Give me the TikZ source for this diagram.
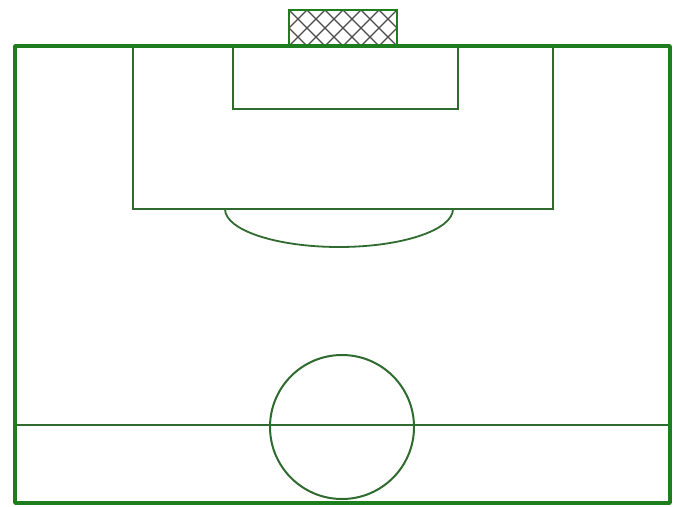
\documentclass[tikz,border=0pt]{standalone}
\usetikzlibrary{calc}
\definecolor{outergreen}{HTML}{1E7D1E}
\definecolor{innergreen}{HTML}{2F6A2F}
\definecolor{netgray}{HTML}{4A4A4A}
\tikzset{
  boundary/.style={draw=outergreen, line width=3.6pt},
  pitchline/.style={draw=innergreen, line width=2pt},
  netline/.style={draw=netgray, line width=1.3pt},
}
\begin{document}
\begin{tikzpicture}[x=1pt,y=-1pt]
\useasboundingbox (0,0) rectangle (682,506);
\fill[white] (0,0) rectangle (682,506);
% goal net
\begin{scope}
  \clip (289,10) rectangle (397,46);
  \foreach \i in {-3,...,10} {
    \draw[netline] ({289+\i*18},10) -- ({289+\i*18+40},50);
    \draw[netline] ({289+\i*18},10) -- ({289+\i*18-40},50);
  }
\end{scope}
\draw[draw=outergreen, line width=2.4pt] (289,46) -- (289,10) -- (397,10) -- (397,46);
% penalty area, goal area
\draw[pitchline] (133,46) -- (133,209) -- (553,209) -- (553,46);
\draw[pitchline] (233,46) -- (233,109) -- (458,109) -- (458,46);
% penalty arc
\draw[pitchline, line width=1.8pt] (225,209) arc[start angle=180, end angle=360, x radius=114, y radius=-38];
% halfway line and centre circle
\draw[pitchline] (15,425) -- (670,425);
\node[circle, draw=innergreen, line width=2pt, minimum size=144pt, inner sep=0pt] (cc) at (342,427) {};
% boundary
\draw[boundary, line join=round] (15,503) -- (15,46) -- (670,46) -- (670,503) -- cycle;
\end{tikzpicture}
\end{document}
